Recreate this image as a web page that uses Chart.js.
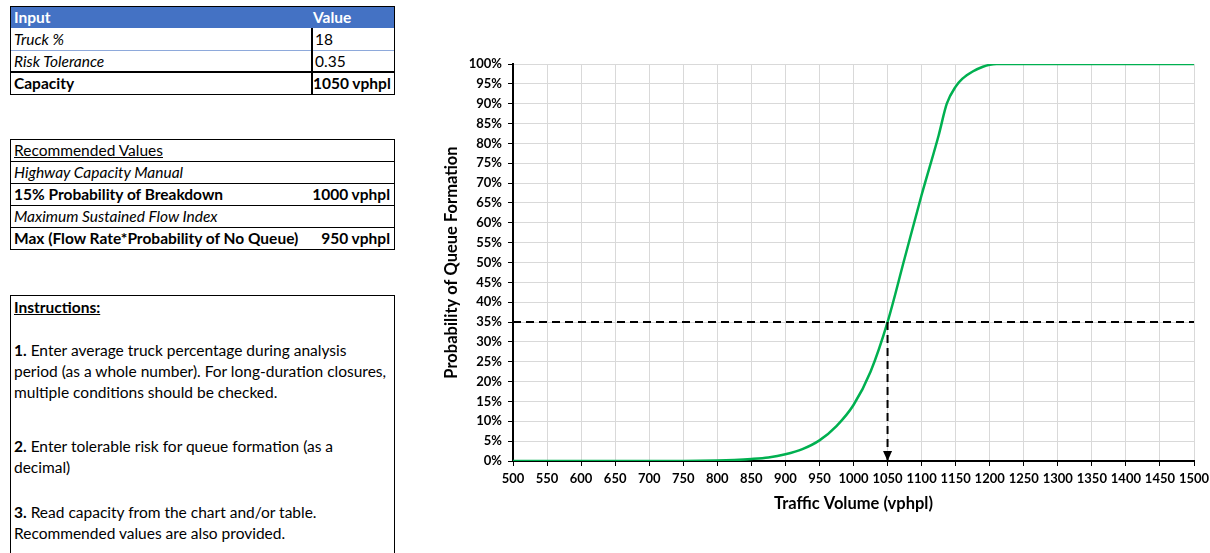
<!DOCTYPE html>
<html>
<head>
<meta charset="utf-8">
<script src="https://cdn.jsdelivr.net/npm/chart.js@4.4.1/dist/chart.umd.min.js"></script>
<style>
  body { margin: 0; background: #fff; width: 1210px; height: 553px; overflow: hidden; position: relative;
         font-family: Lato, "Open Sans", sans-serif; font-size: 15.5px; color: #000; }
  .abs { position: absolute; }
  .cell { position: absolute; left: 0; right: 0; height: 22px; line-height: 22px; padding-left: 3px; white-space: nowrap; }
  .val { position: absolute; right: 4px; top: 0; }
  .box { position: absolute; border: 1.5px solid #000; box-sizing: border-box; }
  .instr div { position: absolute; left: 3px; line-height: 21px; white-space: nowrap; }
  #chartBox { position: absolute; left: 436px; top: 50px; width: 774px; height: 470px; }
</style>
</head>
<body>

<!-- inputs -->
<div class="box" style="left:10px; top:6px; width:385px; height:89px;">
  <div class="cell" style="top:0; height:21px; line-height:21px; background:#4472C4; color:#fff; font-weight:bold;">Input<span class="abs" style="left:302px;">Value</span></div>
  <div class="cell" style="top:21px; font-style:italic; border-bottom:1px solid #8EA9DB;">Truck %</div>
  <div class="cell" style="top:43px; font-style:italic; border-bottom:2px solid #000; height:21px;">Risk Tolerance</div>
  <div class="abs" style="left:300px; top:21px; width:2px; height:66px; background:#000;"></div>
  <div class="abs" style="left:304px; top:21px; line-height:22px;">18</div>
  <div class="abs" style="left:304px; top:43px; line-height:22px;">0.35</div>
  <div class="cell" style="top:65px; font-weight:bold;">Capacity<span class="abs" style="left:302px;">1050 vphpl</span></div>
</div>

<!-- recommended values -->
<div class="box" style="left:10px; top:139px; width:385px; height:111px;">
  <div class="cell" style="top:0; height:21px; line-height:21px; border-bottom:1.5px solid #000; text-decoration:underline;">Recommended Values</div>
  <div class="cell" style="top:22px; height:21px; line-height:21px; border-bottom:1.5px solid #000; font-style:italic;">Highway Capacity Manual</div>
  <div class="cell" style="top:44px; height:21px; line-height:21px; border-bottom:1.5px solid #000; font-weight:bold;">15% Probability of Breakdown<span class="val">1000 vphpl</span></div>
  <div class="cell" style="top:66px; height:21px; line-height:21px; border-bottom:1.5px solid #000; font-style:italic;">Maximum Sustained Flow Index</div>
  <div class="cell" style="top:88px; height:21px; line-height:21px; font-weight:bold;">Max (Flow Rate*Probability of No Queue)<span class="val">950 vphpl</span></div>
</div>

<!-- instructions -->
<div class="box instr" style="left:10px; top:295px; width:385px; height:270px;">
  <div style="top:1px; font-weight:bold; text-decoration:underline;">Instructions:</div>
  <div style="top:44px;"><b>1.</b> Enter average truck percentage during analysis<br>period (as a whole number). For long-duration closures,<br>multiple conditions should be checked.</div>
  <div style="top:140px;"><b>2.</b> Enter tolerable risk for queue formation (as a<br>decimal)</div>
  <div style="top:206px;"><b>3.</b> Read capacity from the chart and/or table.<br>Recommended values are also provided.</div>
</div>

<div id="chartBox"><canvas id="queue-chart"></canvas></div>

<script>
// traffic volume (vphpl) and probability of queue formation (%)
var volumes = [500, 550, 600, 650, 700, 750, 800, 825, 850, 875, 900, 925, 950, 975, 1000, 1025,
               1050, 1075, 1100, 1125, 1137, 1150, 1160, 1175, 1190, 1200, 1210, 1250, 1300, 1350, 1400, 1450, 1500];
var probability = [0, 0, 0, 0, 0, 0, 0.1, 0.25, 0.5, 0.9, 1.7, 3.0, 5.2, 8.8, 14.1, 22.5,
                   35, 51, 67, 82, 90, 94.3, 96.3, 98.1, 99.3, 99.8, 100, 100, 100, 100, 100, 100, 100];

// inputs used for the read-off lines
var riskTolerance = 35;   // %
var capacity = 1050;      // vphpl
var xTicks = { min: 500, max: 1500, step: 50 };
var yTicks = { min: 0, max: 100, step: 5 };

var curve = volumes.map(function (v, i) { return { x: v, y: probability[i] }; });

// arrow head at the bottom of the capacity line
var arrowHead = {
  id: 'arrowHead',
  afterDatasetsDraw: function (chart) {
    var meta = chart.getDatasetMeta(2);
    var pt = meta.data[meta.data.length - 1];
    var ctx = chart.ctx;
    ctx.save();
    ctx.fillStyle = '#000';
    ctx.beginPath();
    ctx.moveTo(pt.x, pt.y);
    ctx.lineTo(pt.x - 4.5, pt.y - 10);
    ctx.lineTo(pt.x + 4.5, pt.y - 10);
    ctx.closePath();
    ctx.fill();
    ctx.restore();
  }
};

var tickFont = { family: 'Lato', size: 13, weight: 'bold' };
var titleFont = { family: 'Lato', size: 16.5, weight: 'bold' };

var ctxQueue = document.getElementById('queue-chart');
var queueChart = new Chart(ctxQueue, {
  type: 'scatter',
  data: {
    datasets: [
      {
        label: 'Probability of Queue Formation',
        data: curve,
        showLine: true,
        borderColor: '#00B050',
        borderWidth: 2.5,
        pointRadius: 0,
        cubicInterpolationMode: 'monotone',
        order: 2
      },
      {
        label: 'Risk Tolerance',
        data: [{ x: xTicks.min, y: riskTolerance }, { x: xTicks.max, y: riskTolerance }],
        showLine: true,
        borderColor: '#000',
        borderWidth: 2,
        borderDash: [8, 5],
        pointRadius: 0,
        order: 1
      },
      {
        label: 'Capacity',
        data: [{ x: capacity, y: riskTolerance }, { x: capacity, y: 0 }],
        showLine: true,
        borderColor: '#000',
        borderWidth: 2,
        borderDash: [8, 5],
        pointRadius: 0,
        order: 1
      }
    ]
  },
  options: {
    responsive: true,
    maintainAspectRatio: false,
    animation: false,
    layout: { padding: { left: 0, right: 16, top: 14, bottom: 0 } },
    plugins: {
      legend: { display: false },
      tooltip: { enabled: false }
    },
    scales: {
      x: {
        type: 'linear',
        min: xTicks.min,
        max: xTicks.max,
        // fixed axis height, and let the outer padding handle the last label
        afterFit: function (scale) { scale.height = 59; scale.paddingRight = 0; },
        ticks: {
          stepSize: xTicks.step, autoSkip: false, maxRotation: 0, padding: 5, color: '#000', font: tickFont,
          callback: function (v) { return String(v); }
        },
        grid: { color: '#d9d9d9', lineWidth: 1, tickColor: '#000', tickLength: 5 },
        border: { color: '#000', width: 2 },
        title: { display: true, text: 'Traffic Volume (vphpl)', color: '#000', font: titleFont, padding: { top: 0, bottom: 6 } }
      },
      y: {
        min: yTicks.min,
        max: yTicks.max,
        afterFit: function (scale) { scale.width = 77; },
        ticks: {
          stepSize: yTicks.step, autoSkip: false, padding: 6, color: '#000', font: tickFont,
          callback: function (v) { return v + '%'; }
        },
        grid: { color: '#d9d9d9', lineWidth: 1, tickColor: '#000', tickLength: 5 },
        border: { color: '#000', width: 2 },
        title: { display: true, text: 'Probability of Queue Formation', color: '#000', font: titleFont, padding: { top: 6, bottom: 0 } }
      }
    }
  },
  plugins: [arrowHead]
});
</script>
</body>
</html>
